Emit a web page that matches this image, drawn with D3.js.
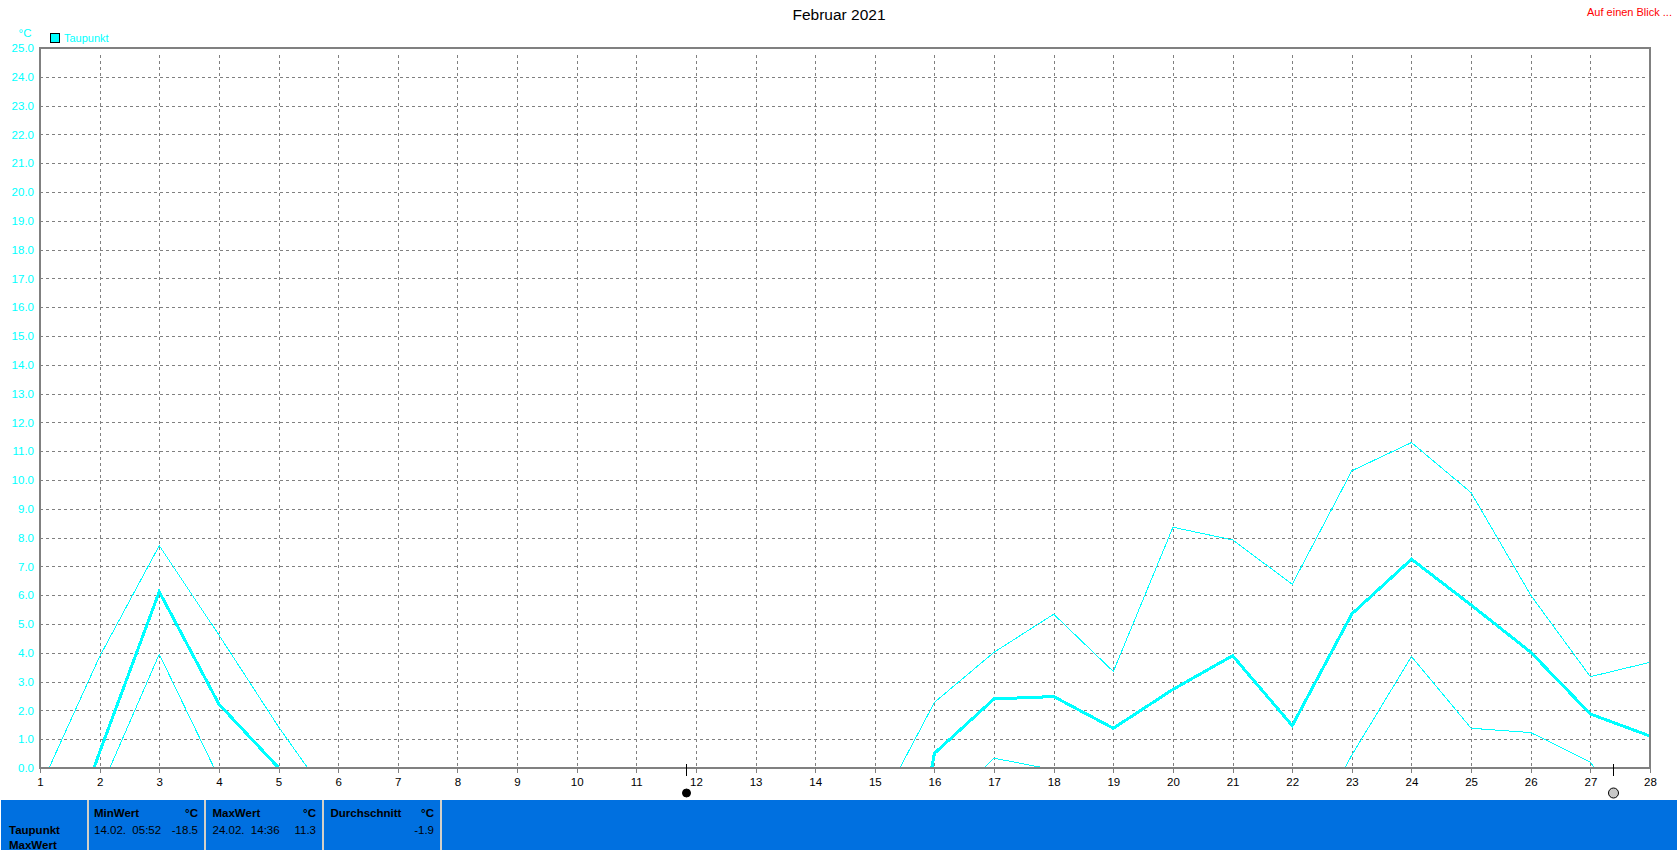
<!DOCTYPE html>
<html>
<head>
<meta charset="utf-8">
<script src="https://cdn.jsdelivr.net/npm/d3@7"></script>
<style>
    html, body { margin: 0; padding: 0; background: #fff; overflow: hidden; }
    svg { display: block; font-family: "Liberation Sans", Arial, sans-serif; }
    .grid line { stroke: #808080; stroke-width: 1; stroke-dasharray: 3 3; shape-rendering: crispEdges; }
    .grid path, .axis path { display: none; }
    .axis text { font-size: 11.5px; font-family: "Liberation Sans", Arial, sans-serif; }
    .curve { fill: none; stroke: #00ffff; shape-rendering: crispEdges; }
</style>
</head>
<body>
<svg id="chart" width="1677" height="850"></svg>
<script>
// day of month, values are degC
// null = line runs below the 0.0 baseline there and can't be read
const days = d3.range(1, 29)
const taupunktMax = [-0.69, 3.87, 7.72, 4.62, 1.43, -1.49, null, null, null, null, null, null, null, null, -1.65, 2.28, 4.02, 5.34, 3.35, 8.36, 7.92, 6.38, 10.32, 11.3, 9.56, 6.0, 3.17, 3.67]
const taupunktAvg = [-5.3, 0.55, 6.12, 2.22, 0.01, null, null, null, null, null, null, null, null, null, -10.7, 0.51, 2.4, 2.48, 1.38, 2.73, 3.9, 1.47, 5.35, 7.25, 5.66, 4.02, 1.875, 1.11]
const taupunktMin = [null, -0.81, 3.95, -0.34, null, null, null, null, null, null, null, null, null, null, null, -1.7, 0.34, -0.06, null, null, null, -3.3, 0.45, 3.87, 1.38, 1.23, 0.2, -2.5]

const yTicks = d3.range(0, 26)
const moonDays = [11.84, 27.38]

const statHeads = ["MinWert", "MaxWert", "Durchschnitt"]
const statDates = ["14.02.  05:52", "24.02.  14:36", ""]
const statValues = ["-18.5", "11.3", "-1.9"]

const plot = { left: 40, right: 1650, top: 48, bottom: 768 }
const cyan = "#00ffff"
const blue = "#0070e0"
const svg = d3.select("#chart")

const x = d3.scaleLinear().domain([1, 28]).range([plot.left, plot.right])
const y = d3.scaleLinear().domain([0, 25]).range([plot.bottom, plot.top])

// title + header texts
svg.append("text").attr("x", 839).attr("y", 20).attr("text-anchor", "middle")
    .style("font-size", "15.5px").attr("fill", "#000").text("Februar 2021")
svg.append("text").attr("x", 1672).attr("y", 16).attr("text-anchor", "end")
    .style("font-size", "11px").attr("fill", "#ff0000").text("Auf einen Blick ...")
svg.append("text").attr("x", 25).attr("y", 37).attr("text-anchor", "middle")
    .style("font-size", "11.5px").attr("fill", cyan).text("°C")

// legend
svg.append("rect").attr("x", 50.5).attr("y", 33.5).attr("width", 9).attr("height", 9)
    .attr("fill", cyan).attr("stroke", "#000")
svg.append("text").attr("x", 64).attr("y", 42)
    .style("font-size", "11px").attr("fill", cyan).text("Taupunkt")

// grid
svg.append("g").attr("class", "grid")
    .attr("transform", `translate(${plot.left},0)`)
    .call(d3.axisLeft(y).tickValues(yTicks.filter(d => d > 0 && d < 25))
        .tickSize(-(plot.right - plot.left - 2)).tickFormat(""))

svg.append("g").attr("class", "grid")
    .attr("transform", `translate(0,${plot.bottom - 2})`)
    .call(d3.axisBottom(x).tickValues(days.slice(1, -1))
        .tickSize(-(plot.bottom - plot.top - 6)).tickFormat(""))

// curves, cut off at the baseline
svg.append("clipPath").attr("id", "plot-clip")
    .append("rect").attr("x", plot.left).attr("y", plot.top)
    .attr("width", plot.right - plot.left).attr("height", plot.bottom - plot.top)

const line = d3.line()
    .defined(d => d[1] !== null)
    .x(d => x(d[0]))
    .y(d => y(d[1]))

const curves = svg.append("g").attr("clip-path", "url(#plot-clip)")
const series = [
    { values: taupunktMax, width: 1 },
    { values: taupunktMin, width: 1 },
    { values: taupunktAvg, width: 3 }
]
curves.selectAll("path")
    .data(series)
    .join("path")
    .attr("class", "curve")
    .attr("stroke-width", d => d.width)
    .attr("d", d => line(days.map((day, i) => [day, d.values[i]])))

// frame
svg.append("rect")
    .attr("x", plot.left).attr("y", plot.top)
    .attr("width", plot.right - plot.left).attr("height", plot.bottom - plot.top)
    .attr("fill", "none").attr("stroke", "#808080").attr("stroke-width", 2)
    .attr("shape-rendering", "crispEdges")

// axes
const yAxis = svg.append("g").attr("class", "axis")
    .attr("transform", `translate(${plot.left - 1},0)`)
    .call(d3.axisLeft(y).tickValues(yTicks).tickSize(0).tickPadding(5).tickFormat(d3.format(".1f")))
yAxis.selectAll("text").attr("fill", cyan)

const xAxis = svg.append("g").attr("class", "axis")
    .attr("transform", `translate(0,${plot.bottom})`)
    .call(d3.axisBottom(x).tickValues(days).tickSize(5).tickPadding(5).tickFormat(d3.format("d")))
xAxis.selectAll("line").attr("stroke", "#808080").attr("shape-rendering", "crispEdges")
xAxis.selectAll("text").attr("fill", "#000")

// moon phases
const moons = svg.append("g").selectAll("g")
    .data(moonDays)
    .join("g")
    .attr("transform", d => `translate(${Math.round(x(d)) + 0.5},0)`)
moons.append("line")
    .attr("y1", 764).attr("y2", 776)
    .attr("stroke", "#000").attr("shape-rendering", "crispEdges")
moons.append("circle")
    .attr("cy", 793).attr("r", (d, i) => i == 0 ? 4 : 5)
    .attr("fill", (d, i) => i == 0 ? "#000" : "#c8c8c8")
    .attr("stroke", "#000")

// stats bar
svg.append("rect").attr("x", 1).attr("y", 800).attr("width", 1676).attr("height", 50).attr("fill", blue)

const separators = [87, 204, 322, 440]
svg.append("g").selectAll("rect")
    .data(separators)
    .join("rect")
    .attr("x", d => d).attr("y", 800).attr("width", 2).attr("height", 50)
    .attr("fill", "#d4d0c8")

const label = (txt, xPos, yPos, bold, anchor) => svg.append("text")
    .attr("x", xPos).attr("y", yPos)
    .attr("text-anchor", anchor || "start")
    .attr("fill", "#000")
    .style("font-size", "11.5px")
    .style("font-weight", bold ? "bold" : "normal")
    .text(txt)

label("Taupunkt", 9, 834, true)
label("MaxWert", 9, 849, true)

const cellLeft = [94, 212.5, 330.5]
const cellRight = [198, 316, 434]
statHeads.forEach((head, i) => {
    label(head, cellLeft[i], 817, true)
    label("°C", cellRight[i], 817, true, "end")
    label(statDates[i], cellLeft[i], 834).style("white-space", "pre")
    label(statValues[i], cellRight[i], 834, false, "end")
})
</script>
</body>
</html>
